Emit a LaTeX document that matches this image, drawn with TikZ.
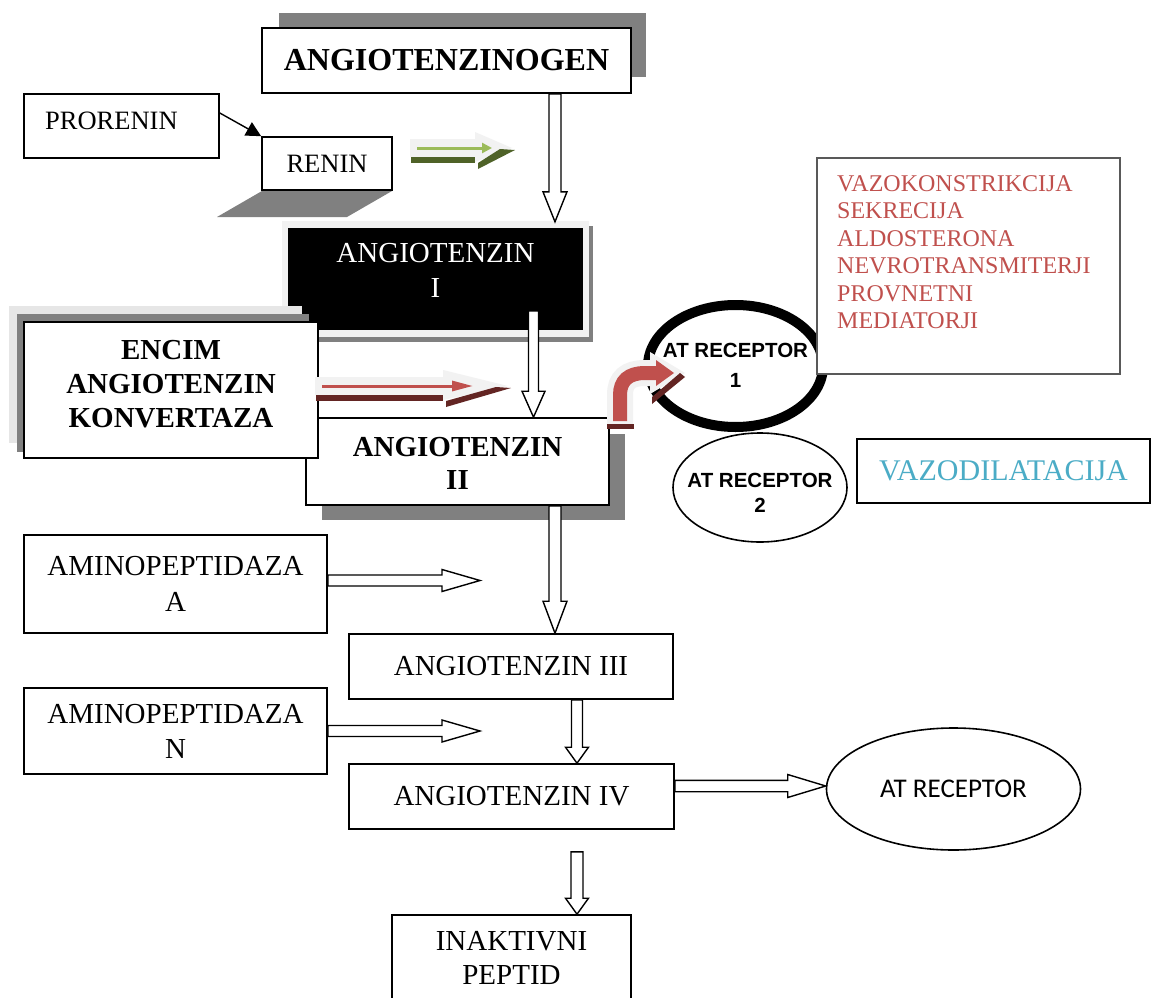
\documentclass[tikz,border=0pt]{standalone}
\usepackage{fontspec}
\setmainfont{Liberation Serif}
\newfontfamily\arialf{Liberation Sans}
\newfontfamily\calibf{Carlito}
\usetikzlibrary{calc,arrows.meta,shapes.geometric}
\definecolor{redA}{HTML}{C0504D}
\definecolor{redD}{HTML}{632523}
\definecolor{grnA}{HTML}{9BBB59}
\definecolor{grnD}{HTML}{4F6228}
\definecolor{ltg}{HTML}{F2F2F2}
\definecolor{ltgb}{HTML}{E6E6E6}
\definecolor{shd}{HTML}{808080}
\definecolor{blueT}{HTML}{4BACC6}
\newcommand{\fsz}[2]{\fontsize{#1}{#2}\selectfont}
% x0, xhead, xtip, yc, line tip x, line head length, light colour, dark colour
\newcommand{\shadowarrow}[8]{%
  \fill[ltg] (#1,{#4-9}) -- (#2,{#4-9}) -- (#2,{#4-16}) -- (#3,#4) -- (#2,{#4+14}) -- (#2,{#4+9}) -- (#1,{#4+9}) -- cycle;
  \fill[#8] ({#1+1},{#4+9}) rectangle (#2,{#4+15});
  \fill[#8] ({#2+3},{#4+15}) -- ({#3-12},{#4+1}) -- ({#3+3},{#4+2}) -- ({#2+3},{#4+21}) -- cycle;
  \draw[#7, line width=3pt, -{Triangle[length=#6pt,width=10pt]}] ({#1+7},#4) -- (#5,#4);
}
\tikzset{
  bsw/.store in=\bsw, bhw/.store in=\bhw, bhl/.store in=\bhl,
  bsw=6, bhw=12, bhl=30,
  box/.style={draw, line width=1.6pt, fill=white, rectangle, inner sep=0pt},
  txt/.style={inner sep=0pt, align=center},
  downblock/.style={draw=black, fill=white, line width=1.4pt, line join=miter,
    to path={let \p1=(\tikztostart), \p2=(\tikztotarget) in
      ({\x2-\bsw*1pt},{\y1}) -- ({\x2-\bsw*1pt},{\y2+\bhl*1pt}) -- ({\x2-\bhw*1pt},{\y2+\bhl*1pt}) -- ({\x2},{\y2})
      -- ({\x2+\bhw*1pt},{\y2+\bhl*1pt}) -- ({\x2+\bsw*1pt},{\y2+\bhl*1pt}) -- ({\x2+\bsw*1pt},{\y1}) -- cycle}},
  rightblock/.style={draw=black, fill=white, line width=1.4pt, line join=miter,
    to path={let \p1=(\tikztostart), \p2=(\tikztotarget) in
      ({\x1},{\y1+\bsw*1pt}) -- ({\x2-\bhl*1pt},{\y1+\bsw*1pt}) -- ({\x2-\bhl*1pt},{\y1+\bhw*1pt}) -- ({\x2},{\y1})
      -- ({\x2-\bhl*1pt},{\y1-\bhw*1pt}) -- ({\x2-\bhl*1pt},{\y1-\bsw*1pt}) -- ({\x1},{\y1-\bsw*1pt}) -- cycle}},
}
\begin{document}
\begin{tikzpicture}[x=1pt,y=-1pt]
\useasboundingbox (0,0) rectangle (1151,998);
\fill[white] (0,0) rectangle (1151,998);

% ANGIOTENZINOGEN
\fill[shd] (279,13) rectangle (646,77);
\node[box, minimum width=369, minimum height=65, font=\fsz{32}{36}\bfseries] (ogen) at (446.5,60.5) {ANGIOTENZINOGEN};

% PRORENIN / RENIN
\fill[shd] (262,191) -- (392,191) -- (347,217) -- (217,217) -- cycle;
\node[box, minimum width=195, minimum height=64] (pro) at (121.5,126) {};
\node[anchor=west, inner sep=0pt, font=\fsz{26.5}{30}] (protxt) at (45,121) {PRORENIN};
\node[box, minimum width=130, minimum height=53, font=\fsz{26.5}{30}] (ren) at (327,163.5) {RENIN};
\draw[line width=1.4pt, -{Triangle[length=15pt,width=15pt]}] ([yshift=13]pro.east) -- (ren.north west);

% green arrow
\shadowarrow{410}{475}{512}{148}{492}{10}{grnA}{grnD}

% ANGIOTENZIN I
\fill[shd] (286,226) rectangle (593,342);
\fill[ltg] (282,221) rectangle (589,337);
\node[rectangle, fill=black, inner sep=0pt, minimum width=295, minimum height=102] (a1) at (435.5,279) {};
\node[txt, text=white, font=\fsz{29}{35}] (a1t) at (435.5,270.5) {ANGIOTENZIN\\I};

% ANGIOTENZIN II
\fill[shd] (322,434) rectangle (625,520);
\node[box, minimum width=303, minimum height=87] (a2) at (457.5,461.5) {};
\node[txt, font=\fsz{29}{33}\bfseries] (a2t) at (457.5,463.5) {ANGIOTENZIN\\II};

% ENCIM
\fill[ltgb] (9,306) rectangle (302,443);
\fill[shd] (17,314) rectangle (309,452);
\node[box, minimum width=294, minimum height=136] (enc) at (171,390) {};
\node[txt, font=\fsz{29}{34}\bfseries] (enct) at (171,384) {ENCIM\\ANGIOTENZIN\\KONVERTAZA};

% red arrow
\shadowarrow{315}{443}{508}{386}{473}{21}{redA}{redD}

% AT receptors 1 and 2
\node[ellipse, draw, line width=10pt, fill=white, inner sep=0pt, minimum width=175, minimum height=122] (atr1) at (735.5,366) {};
\node[txt, font=\arialf\bfseries\fsz{20.5}{30}] (atr1t) at (735.5,365) {AT RECEPTOR\\1};
\node[ellipse, draw, line width=1.6pt, fill=white, inner sep=0pt, minimum width=174, minimum height=109] (atr2) at (760,487.5) {};
\node[txt, font=\arialf\bfseries\fsz{20.5}{25}] (atr2t) at (760,493) {AT RECEPTOR\\2};

% bent red arrow
\draw[ltg, line width=26pt] (620,427) -- (620,395) .. controls (620,380) and (628,373) .. (645,373) -- (660,373);
\fill[ltg] (650,352) -- (685,373) -- (650,394) -- cycle;
\fill[redD] (607,424) rectangle (634,429);
\fill[redD] (652,397) -- (680,373) -- (685,377) -- (652,404) -- cycle;
\draw[redA, line width=14pt] (620,421) -- (620,395) .. controls (620,381) and (628,373) .. (645,373) -- (657,373);
\fill[redA] (656,360) -- (674,373) -- (656,386) -- cycle;

% effects boxes
\node[rectangle, draw=black!65, fill=white, line width=1.3pt, inner sep=0pt, minimum width=303, minimum height=216] (vk) at (968.5,266) {};
\node[anchor=north west, inner sep=0pt, align=left, text=redA, font=\fsz{24}{27.5}] (vkt) at (837,175)
  {VAZOKONSTRIKCIJA\\SEKRECIJA\\ALDOSTERONA\\NEVROTRANSMITERJI\\PROVNETNI\\MEDIATORJI};
\node[box, minimum width=293, minimum height=64, text=blueT, font=\fsz{30}{32}] (vd) at (1003.5,471) {VAZODILATACIJA};

% lower chain
\node[box, minimum width=303, minimum height=98, align=center, font=\fsz{29}{36}] (amA) at (175.5,584) {AMINOPEPTIDAZA\\A};
\node[box, minimum width=303, minimum height=86, align=center, font=\fsz{29}{35}] (amN) at (175.5,731) {AMINOPEPTIDAZA\\N};
\node[box, minimum width=324, minimum height=65, font=\fsz{29}{33}] (a3) at (511,666.5) {ANGIOTENZIN III};
\node[box, minimum width=325, minimum height=65, font=\fsz{29}{33}] (a4) at (511.5,796.5) {ANGIOTENZIN IV};
\node[ellipse, draw, line width=1.6pt, fill=white, inner sep=0pt, minimum width=254, minimum height=122, font=\calibf\fsz{27}{30}] (atr) at (953.5,789) {AT RECEPTOR};
\node[box, minimum width=239, minimum height=90] (inak) at (511.5,960) {};
\node[txt, font=\fsz{29}{34}] (inakt) at (511.5,958) {INAKTIVNI\\PEPTID};

\coordinate (pA) at (480,580.5);
\coordinate (pN) at (480,731.5);

% block arrows
\draw[downblock, bsw=6, bhw=12, bhl=30] ([xshift=108.5]ogen.south) to ([xshift=119.5,yshift=6]a1.north);
\draw[downblock, bsw=5, bhw=11.5, bhl=26] ([xshift=98,yshift=-32]a1.center) to ([xshift=76]a2.north);
\draw[downblock, bsw=6, bhw=12, bhl=32] ([xshift=97.5]a2.south) to ([xshift=44]a3.north);
\draw[downblock, bsw=5.5, bhw=11.5, bhl=16] ([xshift=66]a3.south) to ([xshift=65.5]a4.north);
\draw[downblock, bsw=6, bhw=11.5, bhl=16] ([xshift=65.5,yshift=-22]a4.south) to ([xshift=65.5]inak.north);
\draw[rightblock, bsw=5.5, bhw=11, bhl=38] ([yshift=3.5]amA.east) to (pA);
\draw[rightblock, bsw=5.5, bhw=11, bhl=38] (amN.east) to (pN);
\draw[rightblock, bsw=5.7, bhw=11.5, bhl=38] ([yshift=3]a4.east |- atr.west) to ([yshift=3]atr.west);
\end{tikzpicture}
\end{document}
